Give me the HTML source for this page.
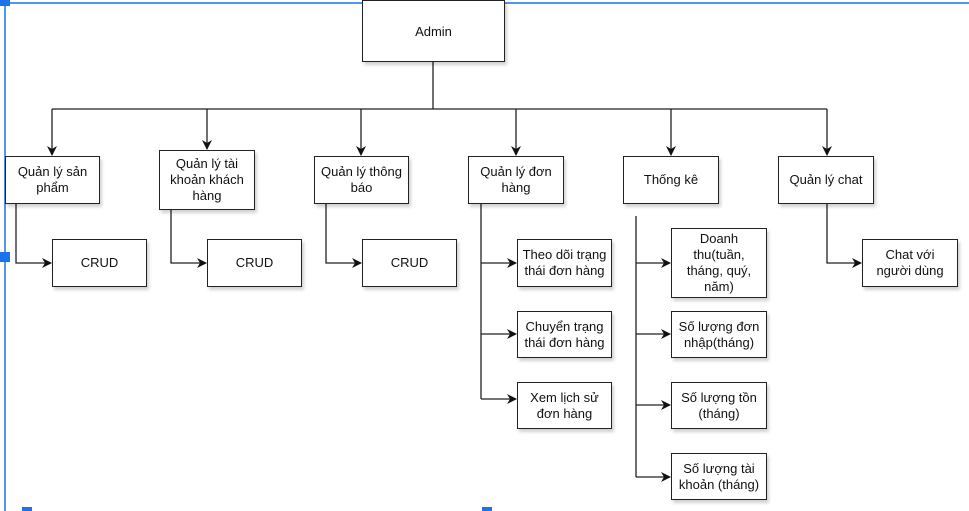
<!DOCTYPE html>
<html><head><meta charset="utf-8"><style>
body{margin:0;width:969px;height:511px;background:#fff;position:relative;overflow:hidden;font-family:"Liberation Sans",Arial,sans-serif}
.b{position:absolute;box-sizing:border-box;border:1.3px solid #222;background:#fff;display:flex;align-items:center;justify-content:center;text-align:center;font-size:13px;line-height:16px;color:#111;box-shadow:2px 3px 3px rgba(0,0,0,.18)}
.h{position:absolute;background:#1a73e8}
</style></head><body>
<svg width="969" height="511" style="position:absolute;left:0;top:0">
<defs><marker id="a" markerWidth="10" markerHeight="10" refX="9" refY="5" orient="auto" markerUnits="userSpaceOnUse"><path d="M0,0 L10,5 L0,10 L3,5 z" fill="#111"/></marker></defs>
<g stroke="#222" stroke-width="1.3" fill="none">
<path d="M433 62 V109"/><path d="M52 109 H827"/>
<path d="M52 109 V155" marker-end="url(#a)"/><path d="M207 109 V149" marker-end="url(#a)"/><path d="M361 109 V155" marker-end="url(#a)"/><path d="M516 109 V155" marker-end="url(#a)"/><path d="M671 109 V155" marker-end="url(#a)"/><path d="M827 109 V155" marker-end="url(#a)"/>
<path d="M16 204 V263 H51" marker-end="url(#a)"/><path d="M171 210 V263 H206" marker-end="url(#a)"/><path d="M326 204 V263 H361" marker-end="url(#a)"/>
<path d="M481 204 V399"/><path d="M481 263 H516" marker-end="url(#a)"/><path d="M481 334 H516" marker-end="url(#a)"/><path d="M481 399 H516" marker-end="url(#a)"/>
<path d="M636 216 V477"/><path d="M636 263 H670" marker-end="url(#a)"/><path d="M636 334 H670" marker-end="url(#a)"/><path d="M636 405 H670" marker-end="url(#a)"/><path d="M636 477 H670" marker-end="url(#a)"/>
<path d="M827 204 V263 H861" marker-end="url(#a)"/>
</g>
<path d="M5 3 H969 M5 3 V511" stroke="#1a73e8" stroke-width="1.5"/>
</svg>
<div class="h" style="left:0;top:0;width:10px;height:6px"></div>
<div class="h" style="left:482px;top:0;width:10px;height:6px"></div>
<div class="h" style="left:0;top:252px;width:10px;height:10px"></div>
<div class="h" style="left:22px;top:507px;width:10px;height:4px"></div>
<div class="h" style="left:482px;top:507px;width:10px;height:4px"></div>
<div class="b" style="left:362px;top:0;width:143px;height:62px;padding-top:2px">Admin</div>
<div class="b" style="left:5px;top:156px;width:95px;height:48px">Quản lý sản<br>phẩm</div>
<div class="b" style="left:159px;top:150px;width:96px;height:60px">Quản lý tài<br>khoản khách<br>hàng</div>
<div class="b" style="left:314px;top:156px;width:95px;height:48px">Quản lý thông<br>báo</div>
<div class="b" style="left:468px;top:156px;width:96px;height:48px">Quản lý đơn<br>hàng</div>
<div class="b" style="left:623px;top:156px;width:96px;height:48px">Thống kê</div>
<div class="b" style="left:778px;top:156px;width:96px;height:48px">Quản lý chat</div>
<div class="b" style="left:52px;top:239px;width:95px;height:48px">CRUD</div>
<div class="b" style="left:207px;top:239px;width:95px;height:48px">CRUD</div>
<div class="b" style="left:362px;top:239px;width:95px;height:48px">CRUD</div>
<div class="b" style="left:517px;top:239px;width:95px;height:48px">Theo dõi trạng<br>thái đơn hàng</div>
<div class="b" style="left:517px;top:311px;width:95px;height:47px">Chuyển trạng<br>thái đơn hàng</div>
<div class="b" style="left:517px;top:382px;width:95px;height:47px">Xem lịch sử<br>đơn hàng</div>
<div class="b" style="left:671px;top:228px;width:96px;height:70px">Doanh<br>thu(tuần,<br>tháng, quý,<br>năm)</div>
<div class="b" style="left:671px;top:311px;width:96px;height:47px">Số lượng đơn<br>nhập(tháng)</div>
<div class="b" style="left:671px;top:382px;width:96px;height:47px">Số lượng tồn<br>(tháng)</div>
<div class="b" style="left:671px;top:453px;width:96px;height:47px">Số lượng tài<br>khoản (tháng)</div>
<div class="b" style="left:862px;top:239px;width:96px;height:48px">Chat với<br>người dùng</div>
</body></html>
